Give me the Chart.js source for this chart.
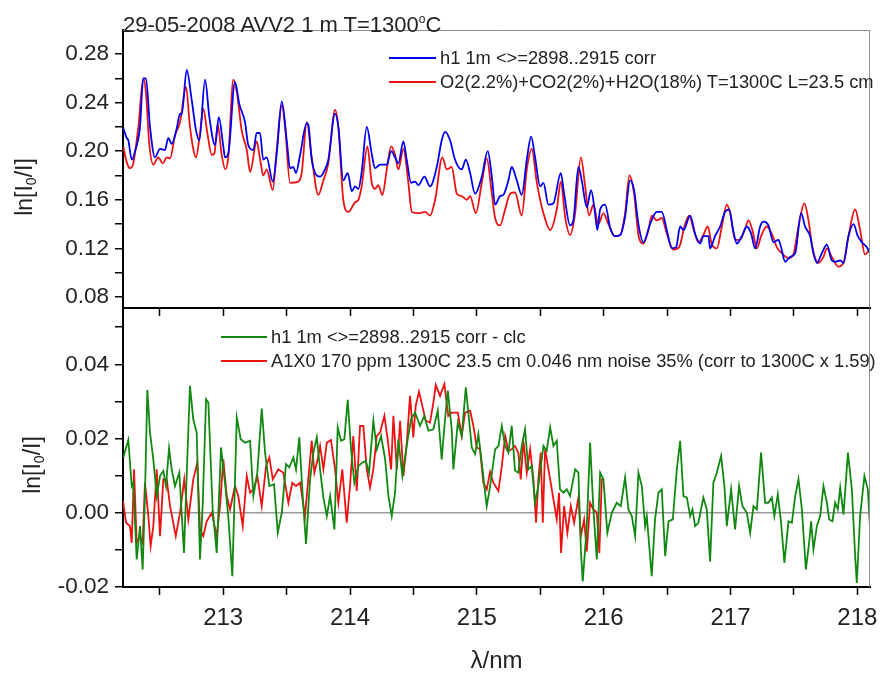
<!DOCTYPE html>
<html>
<head>
<meta charset="utf-8">
<script src="https://cdn.jsdelivr.net/npm/chart.js@4.4.1/dist/chart.umd.min.js"></script>
<style>
  body { margin: 0; background: #fff; font-family: "Liberation Sans", Arial, sans-serif; color: #222; }
  #wrap { position: relative; width: 880px; height: 677px; overflow: hidden; }
  canvas { position: absolute; left: 0; }
  #topChart { top: 0; }
  #botChart { top: 300px; }
  .title { position: absolute; left: 123px; top: 9px; font-size: 22px; line-height: 20px; white-space: nowrap; }
  .title sup { font-size: 12px; vertical-align: 9px; }
  .ylab { position: absolute; width: 120px; height: 28px; line-height: 28px; text-align: center;
          font-size: 23px; transform: rotate(-90deg); white-space: nowrap; }
  .ylab sub { font-size: 14px; vertical-align: -4px; }
  .leg { position: absolute; height: 20px; display: flex; align-items: center; font-size: 18.3px; white-space: nowrap; }
  .leg .sw { display: inline-block; height: 0; border-top: 2px solid; margin-right: 4px; }
</style>
</head>
<body>
<div id="wrap">
  <canvas id="topChart" width="880" height="320"></canvas>
  <canvas id="botChart" width="880" height="377"></canvas>
  <div class="title">29-05-2008 AVV2 1 m T=1300<sup>o</sup>C</div>
  <div class="ylab" style="left:-36px; top:173px;">ln[I<sub>0</sub>/I]</div>
  <div class="ylab" style="left:-28px; top:451px;">ln[I<sub>0</sub>/I]</div>
  <div class="leg" style="left:389px; top:48px;"><span class="sw" style="width:47px; border-color:#0000ee"></span>h1 1m &lt;&gt;=2898..2915 corr</div>
  <div class="leg" style="left:389px; top:72px;"><span class="sw" style="width:47px; border-color:#ee1111"></span>O2(2.2%)+CO2(2%)+H2O(18%) T=1300C L=23.5 cm</div>
  <div class="leg" style="left:221px; top:327px;"><span class="sw" style="width:46px; border-color:#118811"></span>h1 1m &lt;&gt;=2898..2915 corr - clc</div>
  <div class="leg" style="left:221px; top:351px;"><span class="sw" style="width:46px; border-color:#ee1111"></span>A1X0 170 ppm 1300C 23.5 cm 0.046 nm noise 35% (corr to 1300C x 1.59)</div>
</div>
<script>
const FONT = '"Liberation Sans", Arial, sans-serif';

// wavelength range and ticks
const xMin = 212.21, xMax = 218.10;
const xTicks = [212.5, 213, 213.5, 214, 214.5, 215, 215.5, 216, 216.5, 217, 217.5, 218];
const xLabels = [213, 214, 215, 216, 217, 218];

const topYTicks = [0.08, 0.10, 0.12, 0.14, 0.16, 0.18, 0.20, 0.22, 0.24, 0.26, 0.28];
const topYLabels = [0.08, 0.12, 0.16, 0.20, 0.24, 0.28];
const botYTicks = [-0.02, -0.01, 0, 0.01, 0.02, 0.03, 0.04, 0.05];
const botYLabels = [-0.02, 0, 0.02, 0.04];

// top panel: measured (blue) and calculated (red), [lambda, ln(I0/I)]
const topBlue = [
  [212.212,0.219],[212.239,0.211],[212.252,0.209],[212.279,0.193],[212.305,0.200],[212.344,0.220],[212.370,0.260],[212.391,0.260],[212.423,0.220],[212.462,0.195],
  [212.502,0.202],[212.541,0.201],[212.567,0.211],[212.594,0.206],[212.634,0.219],[212.660,0.231],[212.673,0.230],[212.712,0.267],[212.752,0.242],[212.786,0.217],
  [212.812,0.209],[212.857,0.259],[212.891,0.228],[212.936,0.205],[212.965,0.228],[213.001,0.204],[213.014,0.195],[213.040,0.198],[213.093,0.257],[213.127,0.239],
  [213.172,0.224],[213.198,0.205],[213.238,0.201],[213.264,0.215],[213.290,0.215],[213.316,0.193],[213.343,0.195],[213.391,0.175],[213.422,0.198],[213.462,0.241],
  [213.501,0.209],[213.527,0.186],[213.553,0.187],[213.574,0.182],[213.606,0.197],[213.659,0.223],[213.671,0.222],[213.698,0.193],[213.764,0.179],[213.803,0.185],
  [213.829,0.193],[213.882,0.231],[213.908,0.220],[213.947,0.176],[213.982,0.182],[214.014,0.167],[214.040,0.171],[214.066,0.169],[214.092,0.183],[214.132,0.220],
  [214.171,0.198],[214.197,0.186],[214.237,0.189],[214.290,0.189],[214.324,0.200],[214.355,0.195],[214.381,0.190],[214.421,0.208],[214.447,0.193],[214.481,0.174],
  [214.513,0.175],[214.539,0.172],[214.586,0.179],[214.631,0.171],[214.684,0.187],[214.723,0.209],[214.749,0.216],[214.789,0.209],[214.828,0.193],[214.881,0.185],
  [214.913,0.193],[214.947,0.182],[214.986,0.165],[215.039,0.179],[215.086,0.200],[215.118,0.179],[215.144,0.156],[215.183,0.163],[215.209,0.164],[215.249,0.176],
  [215.275,0.187],[215.315,0.176],[215.354,0.164],[215.394,0.193],[215.428,0.212],[215.459,0.195],[215.499,0.171],[215.525,0.174],[215.564,0.156],[215.603,0.157],
  [215.662,0.182],[215.688,0.165],[215.735,0.139],[215.761,0.143],[215.801,0.187],[215.827,0.176],[215.867,0.154],[215.901,0.168],[215.932,0.149],[215.950,0.135],
  [215.972,0.152],[216.011,0.156],[216.051,0.137],[216.090,0.130],[216.130,0.131],[216.169,0.146],[216.208,0.176],[216.240,0.168],[216.274,0.140],[216.313,0.125],
  [216.366,0.140],[216.419,0.150],[216.458,0.150],[216.498,0.135],[216.537,0.120],[216.571,0.121],[216.603,0.138],[216.629,0.135],[216.682,0.147],[216.721,0.132],
  [216.761,0.124],[216.786,0.130],[216.826,0.130],[216.839,0.120],[216.878,0.130],[216.918,0.138],[216.957,0.150],[216.989,0.152],[217.023,0.134],[217.050,0.124],
  [217.089,0.130],[217.129,0.138],[217.163,0.132],[217.194,0.120],[217.234,0.138],[217.260,0.142],[217.299,0.139],[217.339,0.125],[217.378,0.127],[217.399,0.121],
  [217.431,0.109],[217.470,0.113],[217.510,0.116],[217.557,0.149],[217.588,0.138],[217.628,0.130],[217.654,0.116],[217.681,0.108],[217.720,0.116],[217.760,0.123],
  [217.799,0.110],[217.825,0.109],[217.865,0.110],[217.891,0.108],[217.930,0.130],[217.970,0.140],[218.004,0.130],[218.036,0.125],[218.075,0.121],[218.101,0.116]
];

const topRed = [
  [212.212,0.204],[212.239,0.191],[212.265,0.186],[212.291,0.190],[212.331,0.220],[212.370,0.260],[212.391,0.248],[212.417,0.206],[212.449,0.189],[212.488,0.195],
  [212.523,0.190],[212.555,0.195],[212.581,0.194],[212.620,0.213],[212.660,0.224],[212.707,0.253],[212.738,0.220],[212.786,0.195],[212.817,0.215],[212.843,0.235],
  [212.875,0.215],[212.910,0.197],[212.930,0.198],[212.957,0.222],[212.988,0.197],[213.017,0.185],[213.040,0.195],[213.080,0.259],[213.107,0.249],[213.146,0.217],
  [213.186,0.201],[213.212,0.183],[213.264,0.208],[213.290,0.194],[213.316,0.180],[213.343,0.185],[213.391,0.168],[213.422,0.201],[213.462,0.238],[213.488,0.220],
  [213.527,0.174],[213.592,0.175],[213.619,0.182],[213.659,0.224],[213.698,0.195],[213.750,0.164],[213.790,0.176],[213.829,0.190],[213.882,0.234],[213.908,0.220],
  [213.947,0.160],[213.987,0.150],[214.040,0.158],[214.066,0.160],[214.092,0.171],[214.137,0.204],[214.171,0.174],[214.197,0.169],[214.223,0.172],[214.255,0.164],
  [214.290,0.185],[214.324,0.204],[214.355,0.197],[214.381,0.185],[214.421,0.202],[214.460,0.174],[214.487,0.150],[214.539,0.149],[214.592,0.150],[214.631,0.147],
  [214.671,0.160],[214.728,0.195],[214.763,0.185],[214.802,0.187],[214.842,0.165],[214.881,0.163],[214.921,0.160],[214.947,0.163],[214.992,0.149],[215.039,0.174],
  [215.078,0.194],[215.118,0.165],[215.144,0.145],[215.183,0.139],[215.223,0.152],[215.262,0.165],[215.301,0.166],[215.354,0.147],[215.394,0.185],[215.433,0.202],
  [215.473,0.174],[215.525,0.149],[215.578,0.135],[215.630,0.152],[215.662,0.175],[215.696,0.146],[215.735,0.131],[215.775,0.149],[215.820,0.195],[215.854,0.171],
  [215.885,0.147],[215.919,0.156],[215.958,0.140],[215.998,0.149],[216.037,0.140],[216.090,0.130],[216.130,0.131],[216.169,0.149],[216.203,0.180],[216.240,0.165],
  [216.274,0.131],[216.313,0.124],[216.353,0.135],[216.379,0.147],[216.419,0.143],[216.458,0.145],[216.498,0.132],[216.550,0.119],[216.595,0.121],[216.642,0.140],
  [216.674,0.147],[216.708,0.136],[216.747,0.125],[216.786,0.131],[216.821,0.138],[216.853,0.123],[216.892,0.120],[216.932,0.138],[216.971,0.156],[216.997,0.149],
  [217.036,0.127],[217.075,0.127],[217.115,0.136],[217.141,0.143],[217.173,0.135],[217.208,0.120],[217.241,0.130],[217.286,0.138],[217.326,0.132],[217.365,0.121],
  [217.405,0.116],[217.457,0.112],[217.496,0.115],[217.536,0.138],[217.583,0.157],[217.615,0.143],[217.646,0.121],[217.693,0.108],[217.733,0.113],[217.760,0.120],
  [217.799,0.113],[217.851,0.105],[217.891,0.108],[217.930,0.130],[217.983,0.152],[218.022,0.135],[218.061,0.115],[218.101,0.120]
];

// bottom panel: residual (green) and A1X0 model (red)
const botGreen = [
  [212.212,0.0149],[212.252,0.0196],[212.279,0.0072],[212.291,0.0081],[212.318,-0.0126],[212.344,-0.0036],[212.365,-0.0153],[212.383,0.0045],[212.402,0.0331],[212.423,0.0216],
  [212.449,0.0144],[212.476,0.0045],[212.502,0.0099],[212.528,0.0113],[212.549,0.0072],[212.573,0.0174],[212.594,0.0117],[212.620,0.0072],[212.654,0.0108],[212.691,-0.0108],
  [212.712,0.0099],[212.738,0.0342],[212.764,0.0252],[212.791,0.0216],[212.817,-0.0126],[212.839,0.0027],[212.865,0.0306],[212.883,0.0297],[212.917,0.0009],[212.949,-0.0108],
  [212.983,0.0176],[213.014,0.0081],[213.040,-0.0009],[213.072,-0.0171],[213.107,0.0257],[213.138,0.0198],[213.172,0.0189],[213.212,0.0194],[213.238,0.0045],[213.269,0.0108],
  [213.304,0.0281],[213.330,0.0162],[213.364,0.0072],[213.401,0.0077],[213.430,-0.0054],[213.462,0.0000],[213.495,0.0131],[213.521,0.0122],[213.553,0.0149],[213.574,0.0117],
  [213.600,0.0203],[213.627,0.0045],[213.653,-0.0084],[213.685,0.0090],[213.711,0.0162],[213.738,0.0203],[213.764,0.0117],[213.790,0.0041],[213.817,-0.0009],[213.843,0.0045],
  [213.877,-0.0045],[213.903,0.0230],[213.929,0.0194],[213.955,0.0198],[213.982,0.0304],[214.008,0.0171],[214.034,0.0081],[214.066,0.0126],[214.097,0.0135],[214.124,0.0140],
  [214.150,0.0108],[214.184,0.0248],[214.211,0.0171],[214.245,0.0207],[214.277,0.0144],[214.303,0.0045],[214.329,-0.0009],[214.355,0.0054],[214.381,0.0198],[214.413,0.0099],
  [214.447,0.0180],[214.481,0.0252],[214.513,0.0270],[214.552,0.0234],[214.586,0.0261],[214.618,0.0221],[214.657,0.0225],[214.692,0.0275],[214.723,0.0144],[214.749,0.0252],
  [214.771,0.0329],[214.802,0.0225],[214.815,0.0117],[214.850,0.0243],[214.881,0.0207],[214.913,0.0338],[214.933,0.0270],[214.960,0.0176],[214.986,0.0158],[215.012,0.0212],
  [215.039,0.0135],[215.065,0.0054],[215.078,0.0018],[215.104,0.0070],[215.144,0.0171],[215.170,0.0180],[215.197,0.0234],[215.223,0.0180],[215.249,0.0162],[215.275,0.0234],
  [215.301,0.0113],[215.327,0.0108],[215.354,0.0180],[215.380,0.0225],[215.406,0.0117],[215.433,0.0126],[215.459,0.0027],[215.485,0.0072],[215.525,0.0180],[215.551,0.0167],
  [215.578,0.0230],[215.604,0.0180],[215.630,0.0194],[215.656,0.0063],[215.683,0.0054],[215.709,0.0063],[215.735,0.0045],[215.775,0.0117],[215.801,0.0108],[215.820,-0.0099],
  [215.835,-0.0185],[215.867,-0.0036],[215.893,0.0189],[215.919,0.0009],[215.946,-0.0126],[215.972,0.0108],[215.998,0.0090],[216.029,-0.0054],[216.064,0.0000],[216.103,0.0027],
  [216.135,0.0018],[216.169,0.0095],[216.195,0.0009],[216.222,-0.0009],[216.248,-0.0063],[216.274,0.0108],[216.301,0.0072],[216.327,-0.0036],[216.340,-0.0009],[216.379,-0.0171],
  [216.405,-0.0018],[216.432,0.0054],[216.458,0.0063],[216.485,-0.0117],[216.511,-0.0023],[216.545,-0.0018],[216.577,0.0117],[216.603,0.0194],[216.629,0.0045],[216.656,0.0041],
  [216.682,-0.0009],[216.700,0.0009],[216.721,-0.0036],[216.747,-0.0027],[216.786,0.0041],[216.813,0.0009],[216.839,-0.0131],[216.865,0.0081],[216.892,0.0108],[216.926,0.0153],
  [216.952,0.0072],[216.971,-0.0036],[217.005,0.0063],[217.036,-0.0045],[217.068,0.0072],[217.094,0.0018],[217.129,0.0000],[217.155,-0.0054],[217.181,0.0018],[217.208,0.0009],
  [217.241,0.0162],[217.273,0.0027],[217.299,0.0027],[217.326,0.0041],[217.346,-0.0009],[217.373,0.0050],[217.399,-0.0027],[217.425,-0.0135],[217.457,-0.0023],[217.484,-0.0027],
  [217.510,0.0045],[217.536,0.0090],[217.563,0.0009],[217.594,-0.0153],[217.620,-0.0081],[217.636,-0.0023],[217.654,-0.0099],[217.681,-0.0036],[217.707,-0.0009],[217.733,0.0072],
  [217.760,0.0027],[217.778,-0.0018],[217.804,-0.0023],[217.825,0.0027],[217.846,0.0009],[217.865,0.0068],[217.891,-0.0005],[217.926,0.0162],[217.957,0.0063],[217.983,-0.0117],
  [217.996,-0.0189],[218.022,-0.0009],[218.056,0.0099],[218.083,0.0063],[218.101,-0.0045]
];

const botRed = [
  [212.210,0.0032],[212.234,-0.0027],[212.265,-0.0036],[212.279,-0.0081],[212.297,0.0117],[212.318,-0.0081],[212.344,-0.0063],[212.365,-0.0081],[212.383,0.0081],[212.410,-0.0009],
  [212.428,-0.0090],[212.449,-0.0036],[212.476,0.0117],[212.502,-0.0063],[212.528,0.0090],[212.555,0.0090],[212.581,0.0018],[212.626,-0.0063],[212.660,0.0000],[212.693,0.0090],
  [212.725,-0.0018],[212.764,0.0090],[212.796,0.0135],[212.817,-0.0045],[212.843,-0.0063],[212.870,-0.0023],[212.910,0.0000],[212.949,-0.0063],[212.975,0.0018],[213.001,0.0144],
  [213.028,0.0045],[213.054,0.0009],[213.093,0.0072],[213.119,0.0045],[213.154,-0.0036],[213.186,0.0099],[213.212,0.0054],[213.238,0.0063],[213.269,0.0099],[213.304,0.0018],
  [213.338,0.0126],[213.364,0.0149],[213.391,0.0090],[213.435,0.0117],[213.474,0.0108],[213.514,0.0027],[213.545,0.0081],[213.574,0.0072],[213.606,0.0081],[213.645,-0.0009],
  [213.671,0.0090],[213.698,0.0194],[213.719,0.0108],[213.745,0.0144],[213.764,0.0180],[213.790,0.0117],[213.817,0.0189],[213.850,0.0196],[213.882,0.0117],[213.908,0.0027],
  [213.939,0.0117],[213.974,-0.0027],[214.000,0.0072],[214.026,0.0207],[214.053,0.0059],[214.079,0.0234],[214.105,0.0234],[214.132,0.0117],[214.158,0.0068],[214.184,0.0117],
  [214.211,0.0207],[214.237,0.0216],[214.271,0.0261],[214.297,0.0198],[214.324,0.0117],[214.342,0.0261],[214.369,0.0117],[214.395,0.0248],[214.421,0.0099],[214.447,0.0185],
  [214.473,0.0315],[214.499,0.0203],[214.518,0.0288],[214.544,0.0326],[214.570,0.0288],[214.597,0.0248],[214.631,0.0243],[214.657,0.0297],[214.676,0.0344],[214.710,0.0315],
  [214.744,0.0347],[214.775,0.0261],[214.802,0.0270],[214.850,0.0270],[214.881,0.0207],[214.907,0.0270],[214.947,0.0275],[214.973,0.0234],[214.999,0.0176],[215.025,0.0171],
  [215.051,0.0081],[215.078,0.0063],[215.104,0.0110],[215.130,0.0081],[215.170,0.0059],[215.197,0.0126],[215.223,0.0207],[215.249,0.0167],[215.275,0.0171],[215.301,0.0180],
  [215.327,0.0162],[215.346,0.0090],[215.367,0.0194],[215.394,0.0108],[215.420,0.0171],[215.446,0.0090],[215.467,-0.0027],[215.485,0.0090],[215.504,0.0162],[215.520,-0.0027],
  [215.538,0.0171],[215.556,0.0135],[215.578,0.0090],[215.604,0.0036],[215.630,-0.0018],[215.648,0.0054],[215.664,-0.0108],[215.688,0.0018],[215.714,-0.0054],[215.741,0.0018],
  [215.767,-0.0027],[215.801,0.0041],[215.820,-0.0063],[215.846,-0.0018],[215.867,-0.0104],[215.893,0.0027],[215.919,0.0009],[215.946,0.0000],[215.966,-0.0108],[215.985,0.0090],
  [216.003,0.0090]
];

// draws the thin grey top/right box edges
const framePlugin = {
  id: 'frame',
  afterDatasetsDraw(chart, args, opts) {
    const { ctx, chartArea: a } = chart;
    ctx.save();
    ctx.strokeStyle = '#8c8c8c';
    ctx.lineWidth = 1;
    ctx.beginPath();
    if (opts.top) { ctx.moveTo(a.left, a.top + 0.5); ctx.lineTo(a.right, a.top + 0.5); }
    ctx.moveTo(a.right - 0.5, a.top);
    ctx.lineTo(a.right - 0.5, a.bottom);
    ctx.stroke();
    ctx.restore();
  }
};

function series(points, color, smooth) {
  return {
    data: points.map(p => ({ x: p[0], y: p[1] })),
    borderColor: color, borderWidth: 1.8,
    pointRadius: 0, fill: false,
    cubicInterpolationMode: smooth ? 'monotone' : 'default',
    tension: smooth ? 0.4 : 0
  };
}

function xScale(showLabels, height) {
  return {
    type: 'linear', min: xMin, max: xMax,
    afterBuildTicks: s => { s.ticks = xTicks.map(v => ({ value: v })); },
    afterFit: s => { s.height = height; s.paddingLeft = 0; s.paddingRight = 0; },
    grid: { drawOnChartArea: false, drawTicks: true, tickLength: 8, tickColor: '#000', tickWidth: 1.5 },
    border: { display: true, color: '#000', width: 2 },
    ticks: {
      display: showLabels, autoSkip: false, maxRotation: 0, padding: 9, color: '#222',
      font: { family: FONT, size: 24 },
      callback: v => xLabels.includes(v) ? String(v) : ''
    },
    title: {
      display: showLabels, text: 'λ/nm', color: '#222',
      font: { family: FONT, size: 24 }, padding: { top: 0, bottom: 1 }
    }
  };
}

function yScale(min, max, ticks, labels, zeroLine) {
  return {
    type: 'linear', min: min, max: max,
    afterBuildTicks: s => { s.ticks = ticks.map(v => ({ value: v })); },
    afterFit: s => { s.width = 123; s.paddingTop = 0; s.paddingBottom = 0; },
    grid: {
      drawOnChartArea: zeroLine,
      color: c => (zeroLine && c.tick && Math.abs(c.tick.value) < 1e-9) ? '#9a9a9a' : 'rgba(0,0,0,0)',
      lineWidth: 1.5, drawTicks: true, tickLength: 8, tickColor: '#000', tickWidth: 1.5
    },
    border: { display: true, color: '#000', width: 2 },
    ticks: {
      padding: 6, color: '#222', autoSkip: false,
      font: { family: FONT, size: 22.5 },
      callback: v => labels.some(l => Math.abs(l - v) < 1e-9) ? v.toFixed(2) : ''
    }
  };
}

function baseOptions(padTop, x, y, frameTop) {
  return {
    responsive: false, animation: false, devicePixelRatio: 1, events: [],
    layout: { padding: { top: padTop, right: 10, left: 0, bottom: 0 } },
    plugins: { legend: { display: false }, tooltip: { enabled: false }, frame: { top: frameTop } },
    scales: { x: x, y: y }
  };
}

new Chart(document.getElementById('topChart'), {
  type: 'line',
  data: { datasets: [series(topBlue, '#0000ee', true), series(topRed, '#ee1111', true)] },
  options: baseOptions(30, xScale(false, 12), yScale(0.0709, 0.2998, topYTicks, topYLabels, false), true),
  plugins: [framePlugin]
});

new Chart(document.getElementById('botChart'), {
  type: 'line',
  data: { datasets: [series(botGreen, '#118811', false), series(botRed, '#ee1111', false)] },
  options: baseOptions(9, xScale(true, 90), yScale(-0.02, 0.0549, botYTicks, botYLabels, true), false),
  plugins: [framePlugin]
});
</script>
</body>
</html>
